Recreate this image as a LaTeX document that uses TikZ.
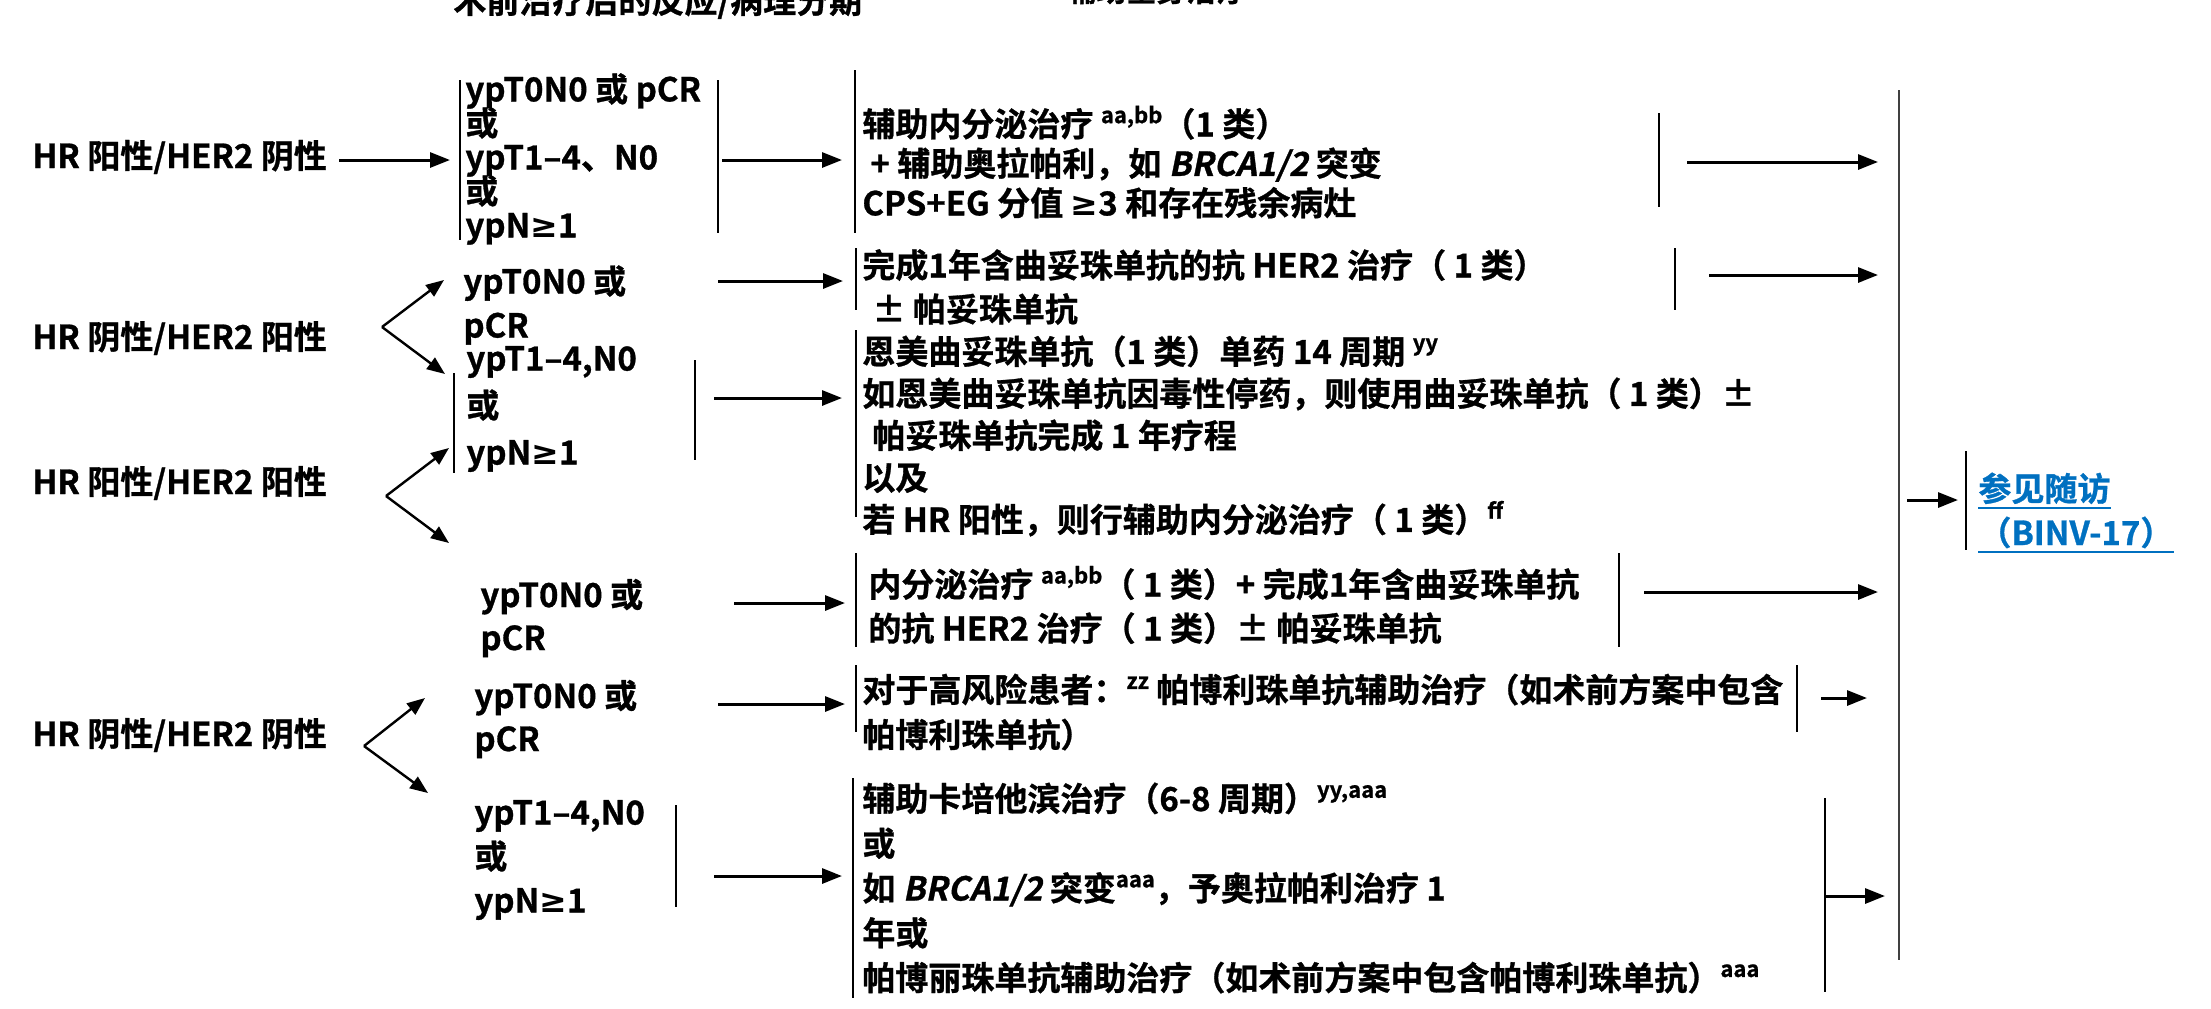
\documentclass[tikz,border=0pt]{standalone}
\usepackage{fontspec}
\setmainfont{Noto Sans CJK SC Bold}[FakeBold=0.9]
\newfontfamily\slfont{Noto Sans CJK SC Bold}[FakeSlant=0.2,FakeBold=0.9]
\newfontfamily\symfont{DejaVu Sans}
\usetikzlibrary{arrows.meta}
\definecolor{linkblue}{HTML}{0070C0}
\newcommand\supr[1]{\raisebox{0.40em}{\fontsize{11}{11}\selectfont #1}}
\newcommand\brca{{\slfont BRCA1/2}}
\newcommand\gte{{\symfont\bfseries ≥}}
\newcommand\vbr[3]{\draw[br] (#1,#2) -- (#1,#3);}
\begin{document}
\lineskiplimit=-30pt
\begin{tikzpicture}[x=0.5pt,y=-0.5pt,
  lbl/.style={font=\fontsize{16.5}{20}\selectfont, anchor=west, inner sep=0pt},
  blk/.style={font=\fontsize{16.5}{#1}\selectfont, align=left, anchor=west, inner sep=0pt},
  blk/.default=22,
  br/.style={line width=1.1pt},
  bigbar/.style={line width=1.4pt, draw=black!75},
  arr/.style={line width=1.5pt, -{Triangle[length=10pt,width=7.5pt]}},
  fork/.style={line width=1.2pt, -{Triangle[length=9pt,width=7pt]}},
  link/.style={font=\fontsize{16.5}{20}\selectfont, text=linkblue, anchor=base west, inner sep=0pt},
  ul/.style={draw=linkblue, line width=1pt},
]
\useasboundingbox (0,0) rectangle (2211,1008);
\fill[white] (0,0) rectangle (2211,1008);

% titles (cut off at the top, as in the reference)
\node[font=\fontsize{16.5}{20}\selectfont, anchor=base west, inner sep=0pt] (H1) at (453,13) {术前治疗后的反应/病理分期};
\node[font=\fontsize{15}{18}\selectfont, anchor=base west, inner sep=0pt] (H2) at (1066,1.5) {辅助全身治疗};

% left labels
\node[lbl] (L0) at (32,157) {HR 阳性/HER2 阴性};
\node[lbl] (L1) at (32,338) {HR 阴性/HER2 阳性};
\node[lbl] (L2) at (32,483) {HR 阳性/HER2 阳性};
\node[lbl] (L3) at (32,735) {HR 阴性/HER2 阴性};

% stages
\node[blk=17] (S1) at (465,159) {ypT0N0 或 pCR\\或\\ypT1–4、N0\\或\\ypN\gte 1};
\node[blk=22] (S2a) at (463,305) {ypT0N0 或\\pCR};
\node[blk=23.5] (S2b) at (466,409) {ypT1–4,N0\\或\\ypN\gte 1};
\node[blk=21.5] (S3a) at (480,618) {ypT0N0 或\\pCR};
\node[blk=21.5] (S4a) at (474,719) {ypT0N0 或\\pCR};
\node[blk=22] (S4b) at (474,860) {ypT1–4,N0\\或\\ypN\gte 1};

% treatments
\node[blk=19.75] (T1) at (862,162) {辅助内分泌治疗 \supr{aa,bb}（1 类）\\\hspace*{4pt}+ 辅助奥拉帕利，如 \brca{} 突变\\CPS+EG 分值 \gte 3 和存在残余病灶};
\node[blk=22] (T2a) at (862,287) {完成1年含曲妥珠单抗的抗 HER2 治疗（ 1 类）\\\hspace*{5pt}± 帕妥珠单抗};
\node[blk=21] (T2b) at (862,436) {恩美曲妥珠单抗（1 类）单药 14 周期 \supr{yy}\\如恩美曲妥珠单抗因毒性停药，则使用曲妥珠单抗（ 1 类）±\\\hspace*{5pt}帕妥珠单抗完成 1 年疗程\\以及\\若 HR 阳性，则行辅助内分泌治疗（ 1 类）\supr{ff}};
\node[blk=22] (T3a) at (868,605) {内分泌治疗 \supr{aa,bb}（ 1 类）+ 完成1年含曲妥珠单抗\\的抗 HER2 治疗（ 1 类）± 帕妥珠单抗};
\node[blk=22.5] (T4a) at (862,712) {对于高风险患者：\supr{zz} 帕博利珠单抗辅助治疗（如术前方案中包含\\帕博利珠单抗）};
\node[blk=22.4] (T4b) at (862,888) {辅助卡培他滨治疗（6-8 周期）\supr{yy,aaa}\\或\\如 \brca{} 突变\supr{aaa}，予奥拉帕利治疗 1\\年或\\帕博丽珠单抗辅助治疗（如术前方案中包含帕博利珠单抗）\supr{aaa}};

% follow-up link
\node[link] (F1) at (1978,501) {参见随访};
\node[link] (F2) at (1978,545) {（BINV-17）};
\draw[ul] ([yshift=-1.5pt]F1.south west) -- ([yshift=-1.5pt]F1.south east);
\draw[ul] ([yshift=-1.5pt]F2.south west) -- ([yshift=-1.5pt]F2.south east);

% brackets
\vbr{460}{80}{240}
\vbr{718}{80}{233}
\vbr{855}{70}{233}
\vbr{1659}{113}{207}
\vbr{856}{248}{310}
\vbr{1675}{248}{310}
\vbr{454}{373}{473}
\vbr{695}{360}{460}
\vbr{856}{330}{517}
\vbr{856}{553}{647}
\vbr{1619}{553}{647}
\vbr{856}{665}{732}
\vbr{1797}{665}{732}
\vbr{676}{805}{907}
\vbr{853}{778}{998}
\vbr{1825}{798}{992}
\vbr{1966}{451}{550}
\draw[bigbar] (1899,90) -- (1899,960);

% arrow end points
\coordinate (a0s) at (339,160);  \coordinate (a0e) at (450,160);
\coordinate (a1s) at (722,160);  \coordinate (a1e) at (842,160);
\coordinate (a1rs) at (1687,162); \coordinate (a1re) at (1878,162);
\coordinate (a2as) at (718,281); \coordinate (a2ae) at (843,281);
\coordinate (a2ars) at (1709,275); \coordinate (a2are) at (1878,275);
\coordinate (a2bs) at (714,398); \coordinate (a2be) at (842,398);
\coordinate (a3as) at (734,603); \coordinate (a3ae) at (845,603);
\coordinate (a3ars) at (1644,592); \coordinate (a3are) at (1878,592);
\coordinate (a4as) at (718,704); \coordinate (a4ae) at (845,704);
\coordinate (a4ars) at (1821,698); \coordinate (a4are) at (1867,698);
\coordinate (a4bs) at (714,876); \coordinate (a4be) at (842,876);
\coordinate (a4brs) at (1825,896); \coordinate (a4bre) at (1885,896);
\coordinate (afs) at (1907,500); \coordinate (afe) at (1958,500);

\foreach \s/\e in {a0s/a0e,a1s/a1e,a1rs/a1re,a2as/a2ae,a2ars/a2are,a2bs/a2be,a3as/a3ae,a3ars/a3are,a4as/a4ae,a4ars/a4are,a4bs/a4be,a4brs/a4bre,afs/afe}
  \draw[arr] (\s) -- (\e);

% forks
\coordinate (f1) at (382,327); \coordinate (f1u) at (444,280); \coordinate (f1d) at (445,374);
\coordinate (f2) at (386,496); \coordinate (f2u) at (449,448); \coordinate (f2d) at (449,543);
\coordinate (f3) at (364,746); \coordinate (f3u) at (425,698); \coordinate (f3d) at (428,793);
\draw[fork] (f1) -- (f1u); \draw[fork] (f1) -- (f1d);
\draw[fork] (f2) -- (f2u); \draw[fork] (f2) -- (f2d);
\draw[fork] (f3) -- (f3u); \draw[fork] (f3) -- (f3d);
\end{tikzpicture}
\end{document}
